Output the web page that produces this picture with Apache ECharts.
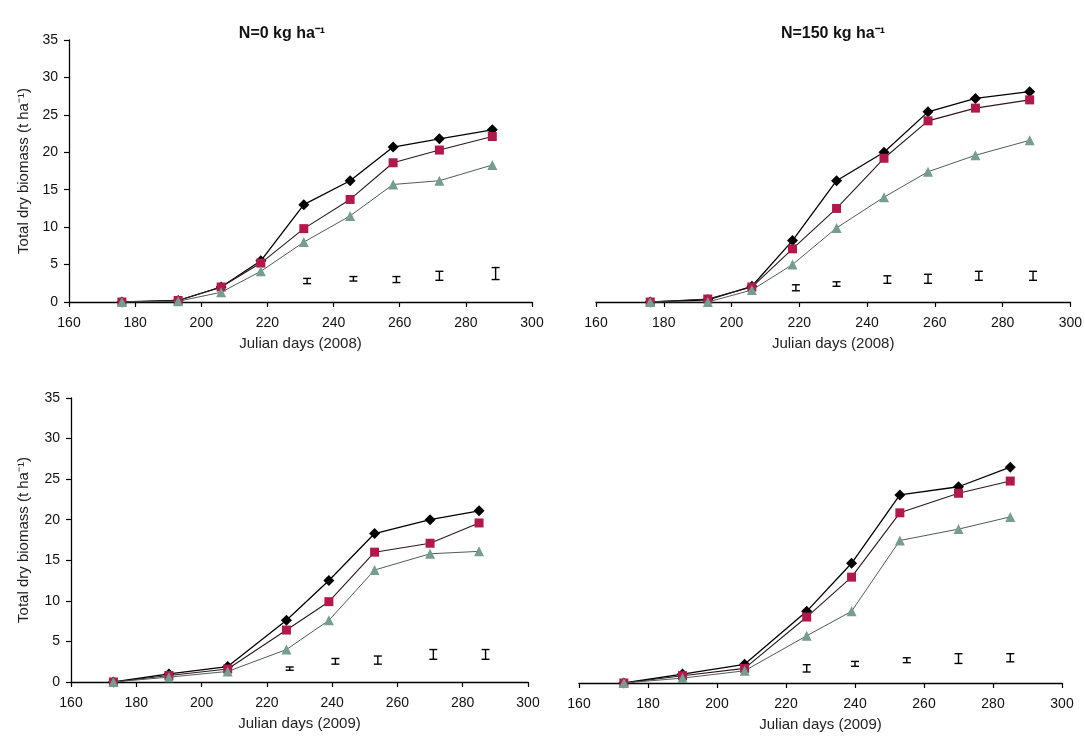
<!DOCTYPE html>
<html>
<head>
<meta charset="utf-8">
<script src="https://cdn.jsdelivr.net/npm/echarts@6/dist/echarts.min.js"></script>
<style>html,body{margin:0;padding:0;background:#fff}#c{width:1085px;height:736px}</style>
</head>
<body>
<div id="c"></div>
<script>
// ---- data ----
const days2008 = [176, 193, 206, 218, 231, 245, 258, 272, 288];
const days2009 = [173, 190, 208, 226, 239, 253, 270, 285];

const n0_2008_black = [0, 0.2, 2.0, 5.5, 13.0, 16.2, 20.7, 21.8, 23.0];
const n0_2008_red   = [0, 0.2, 2.0, 5.2, 9.8, 13.7, 18.6, 20.3, 22.1];
const n0_2008_green = [0, 0.1, 1.3, 4.1, 8.0, 11.5, 15.7, 16.2, 18.3];

const n150_2008_black = [0, 0.3, 2.1, 8.2, 16.2, 20.0, 25.4, 27.2, 28.1];
const n150_2008_red   = [0, 0.4, 2.0, 7.1, 12.5, 19.2, 24.2, 25.9, 27.0];
const n150_2008_green = [0, 0.0, 1.6, 5.0, 9.9, 14.0, 17.4, 19.6, 21.6];

const n0_2009_black = [0, 1.0, 1.9, 7.6, 12.5, 18.3, 20.0, 21.1];
const n0_2009_red   = [0, 0.8, 1.6, 6.4, 9.9, 16.0, 17.1, 19.6];
const n0_2009_green = [0, 0.6, 1.3, 4.0, 7.6, 13.8, 15.8, 16.1];

const n150_2009_black = [0, 1.1, 2.3, 8.8, 14.7, 23.1, 24.1, 26.5];
const n150_2009_red   = [0, 0.9, 1.8, 8.1, 13.0, 20.9, 23.3, 24.8];
const n150_2009_green = [0, 0.6, 1.5, 5.8, 8.8, 17.5, 18.9, 20.4];

// error bars: x day, low, high
const err_n0_2008_x  = [232, 246, 259, 272, 289];
const err_n0_2008_lo = [2.45, 2.8, 2.6, 2.9, 3.0];
const err_n0_2008_hi = [3.15, 3.4, 3.4, 4.1, 4.6];

const err_n150_2008_x  = [219, 231, 246, 258, 273, 289];
const err_n150_2008_lo = [1.5, 2.1, 2.5, 2.5, 2.9, 2.9];
const err_n150_2008_hi = [2.3, 2.7, 3.5, 3.7, 4.1, 4.1];

const err_n0_2009_x  = [227, 241, 254, 271, 287];
const err_n0_2009_lo = [1.45, 2.2, 2.2, 2.8, 2.8];
const err_n0_2009_hi = [1.85, 2.9, 3.2, 4.0, 4.0];

const err_n150_2009_x  = [226, 240, 255, 270, 285];
const err_n150_2009_lo = [1.35, 2.05, 2.5, 2.4, 2.6];
const err_n150_2009_hi = [2.25, 2.65, 3.1, 3.6, 3.6];

const xTicks = [160, 180, 200, 220, 240, 260, 280, 300];
const yTicks = [0, 5, 10, 15, 20, 25, 30, 35];

const panels = [
  {title: 'N=0 kg ha⁻¹', titleX: 277, xname: 'Julian days (2008)', showY: true, days: days2008,
   black: n0_2008_black, red: n0_2008_red, green: n0_2008_green,
   ex: err_n0_2008_x, elo: err_n0_2008_lo, ehi: err_n0_2008_hi,
   grid: {left: 69, top: 40, width: 463, height: 262}},
  {title: 'N=150 kg ha⁻¹', titleX: 828, xname: 'Julian days (2008)', showY: false, days: days2008,
   black: n150_2008_black, red: n150_2008_red, green: n150_2008_green,
   ex: err_n150_2008_x, elo: err_n150_2008_lo, ehi: err_n150_2008_hi,
   grid: {left: 596, top: 40, width: 475, height: 262}},
  {title: '', xname: 'Julian days (2009)', showY: true, days: days2009,
   black: n0_2009_black, red: n0_2009_red, green: n0_2009_green,
   ex: err_n0_2009_x, elo: err_n0_2009_lo, ehi: err_n0_2009_hi,
   grid: {left: 71, top: 398, width: 457, height: 284}},
  {title: '', xname: 'Julian days (2009)', showY: false, days: days2009,
   black: n150_2009_black, red: n150_2009_red, green: n150_2009_green,
   ex: err_n150_2009_x, elo: err_n150_2009_lo, ehi: err_n150_2009_hi,
   grid: {left: 579, top: 398, width: 483, height: 285}}
];

const FONT = '"Liberation Sans", Arial, sans-serif';
const grids = [], xAxes = [], yAxes = [], series = [], titles = [];

function pairs(xs, ys) { return xs.map((x, i) => [x, ys[i]]); }

panels.forEach((p, i) => {
  grids.push(Object.assign({containLabel: false}, p.grid));
  xAxes.push({
    type: 'value', gridIndex: i, min: xTicks[0], max: xTicks[xTicks.length - 1], interval: 20,
    name: p.xname, nameLocation: 'middle', nameGap: 34,
    nameTextStyle: {fontFamily: FONT, fontSize: 15, color: '#222'},
    axisLine: {show: true, onZero: false, lineStyle: {color: '#000', width: 1.3}},
    axisTick: {show: true, inside: false, length: 5, lineStyle: {color: '#000', width: 1.2}},
    axisLabel: {fontFamily: FONT, fontSize: 14, color: '#111', margin: 14},
    splitLine: {show: false}
  });
  yAxes.push({
    type: 'value', gridIndex: i, min: yTicks[0], max: yTicks[yTicks.length - 1], interval: 5,
    show: p.showY,
    name: p.showY ? 'Total dry biomass (t ha⁻¹)' : '', nameLocation: 'middle', nameGap: i < 2 ? 38 : 40,
    nameRotate: 90,
    nameTextStyle: {fontFamily: FONT, fontSize: 15, color: '#222'},
    axisLine: {show: true, lineStyle: {color: '#000', width: 1.3}},
    axisTick: {show: true, inside: false, length: 5, lineStyle: {color: '#000', width: 1.2}},
    axisLabel: {fontFamily: FONT, fontSize: 14, color: '#111', margin: 11},
    splitLine: {show: false}
  });
  if (p.title) {
    titles.push({
      text: p.title,
      left: p.titleX, top: 21, textAlign: 'center',
      textStyle: {fontFamily: FONT, fontSize: 16, fontWeight: 'bold', color: '#111'}
    });
  }
  // drawing order as in the original: black first, red above it, green on top
  series.push({
    type: 'line', xAxisIndex: i, yAxisIndex: i, data: pairs(p.days, p.black),
    symbol: 'diamond', symbolSize: 11, showSymbol: true,
    lineStyle: {color: '#000', width: 1.3},
    itemStyle: {color: '#000'}, z: 2, animation: false
  });
  series.push({
    type: 'line', xAxisIndex: i, yAxisIndex: i, data: pairs(p.days, p.red),
    symbol: 'rect', symbolSize: 9, showSymbol: true,
    lineStyle: {color: '#2e1720', width: 1.1},
    itemStyle: {color: '#b3184c'}, z: 3, animation: false
  });
  series.push({
    type: 'line', xAxisIndex: i, yAxisIndex: i, data: pairs(p.days, p.green),
    symbol: 'triangle', symbolSize: 10, showSymbol: true,
    lineStyle: {color: '#4f5c57', width: 1},
    itemStyle: {color: '#759d90'}, z: 4, animation: false
  });
  series.push({
    type: 'custom', xAxisIndex: i, yAxisIndex: i, z: 5, animation: false,
    data: p.ex.map((x, k) => [x, p.elo[k], p.ehi[k]]),
    renderItem: function (params, api) {
      const lo = api.coord([api.value(0), api.value(1)]);
      const hi = api.coord([api.value(0), api.value(2)]);
      const w = 4;
      const st = {stroke: '#000', lineWidth: 1.4};
      return {type: 'group', children: [
        {type: 'line', shape: {x1: lo[0], y1: lo[1], x2: hi[0], y2: hi[1]}, style: st},
        {type: 'line', shape: {x1: lo[0] - w, y1: lo[1], x2: lo[0] + w, y2: lo[1]}, style: st},
        {type: 'line', shape: {x1: hi[0] - w, y1: hi[1], x2: hi[0] + w, y2: hi[1]}, style: st}
      ]};
    }
  });
});

const chart = echarts.init(document.getElementById('c'), null, {renderer: 'canvas'});
chart.setOption({
  backgroundColor: '#fff',
  animation: false,
  title: titles,
  grid: grids,
  xAxis: xAxes,
  yAxis: yAxes,
  series: series
});
</script>
</body>
</html>
